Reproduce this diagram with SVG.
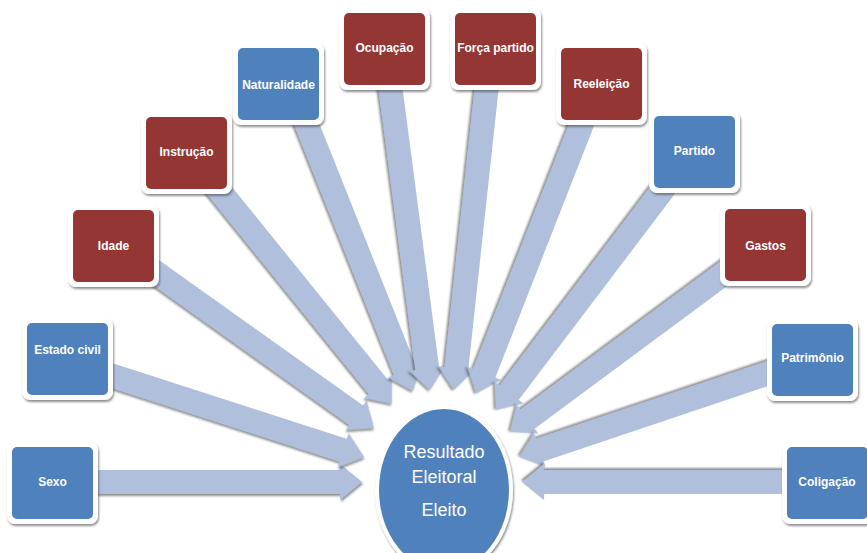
<svg xmlns="http://www.w3.org/2000/svg" width="867" height="553" viewBox="0 0 867 553">
<defs>
<filter id="sh" x="-20%" y="-20%" width="140%" height="140%">
<feDropShadow dx="1" dy="2" stdDeviation="1" flood-color="#444" flood-opacity="0.6"/>
</filter>
<style>
.arr{fill:#AFBFDC;filter:url(#sh)}
.frame{fill:#fff;filter:url(#sh)}
.blue{fill:#4F81BD}
.red{fill:#943634}
.lbl{font-family:"Liberation Sans",Arial,sans-serif;font-size:12px;font-weight:bold;fill:#fff;text-anchor:middle}
.ctr{font-family:"Liberation Sans",Arial,sans-serif;font-size:18px;fill:#fff;text-anchor:middle}
</style>
</defs>
<rect width="867" height="553" fill="#fff"/>
<g id="connectors">
<path class="arr" transform="translate(97,482) rotate(0)" d="M-10,-12 H243 V-18 L265,0 L243,18 V12 H-10 Z"/>
<path class="arr" transform="translate(110,375) rotate(17.89)" d="M-10,-12 H245 V-18 L267,0 L245,18 V12 H-10 Z"/>
<path class="arr" transform="translate(155,272) rotate(35.46)" d="M-10,-12 H247 V-18 L269,0 L247,18 V12 H-10 Z"/>
<path class="arr" transform="translate(219,190) rotate(51.04)" d="M-10,-12 H253 V-18 L275,0 L253,18 V12 H-10 Z"/>
<path class="arr" transform="translate(305,120) rotate(68.27)" d="M-10,-12 H270 V-18 L292,0 L270,18 V12 H-10 Z"/>
<path class="arr" transform="translate(390,85) rotate(82.53)" d="M-10,-12 H286 V-18 L308,0 L286,18 V12 H-10 Z"/>
<path class="arr" transform="translate(487,85) rotate(96.18)" d="M-10,-12 H285 V-18 L307,0 L285,18 V12 H-10 Z"/>
<path class="arr" transform="translate(583,121) rotate(111.4)" d="M-10,-12 H271 V-18 L293,0 L271,18 V12 H-10 Z"/>
<path class="arr" transform="translate(665,187) rotate(127.16)" d="M-10,-12 H258 V-18 L280,0 L258,18 V12 H-10 Z"/>
<path class="arr" transform="translate(726,272) rotate(143.47)" d="M-10,-12 H247 V-18 L269,0 L247,18 V12 H-10 Z"/>
<path class="arr" transform="translate(772,372) rotate(161.43)" d="M-10,-12 H245 V-18 L267,0 L245,18 V12 H-10 Z"/>
<path class="arr" transform="translate(787,482) rotate(180)" d="M-10,-12 H243 V-18 L265,0 L243,18 V12 H-10 Z"/>
</g>
<g id="resultado">
<ellipse cx="444" cy="490" rx="69" ry="85" class="frame"/>
<ellipse cx="444" cy="490" rx="65" ry="81" class="blue"/>
<text class="ctr" x="444" y="458">Resultado</text>
<text class="ctr" x="444" y="483">Eleitoral</text>
<text class="ctr" x="444" y="516">Eleito</text>
</g>
<g id="sexo">
<rect class="frame" x="7" y="442" width="91" height="82" rx="8"/>
<rect class="blue" x="12" y="447" width="81" height="72" rx="5"/>
<text class="lbl" x="52.5" y="486">Sexo</text>
</g>
<g id="estado-civil">
<rect class="frame" x="22" y="318" width="91" height="82" rx="8"/>
<rect class="blue" x="27" y="323" width="81" height="72" rx="5"/>
<text class="lbl" x="67.5" y="354">Estado civil</text>
</g>
<g id="idade">
<rect class="frame" x="68" y="205" width="91" height="82" rx="8"/>
<rect class="red" x="73" y="210" width="81" height="72" rx="5"/>
<text class="lbl" x="113.5" y="250">Idade</text>
</g>
<g id="instrucao">
<rect class="frame" x="141" y="112" width="91" height="82" rx="8"/>
<rect class="red" x="146" y="117" width="81" height="72" rx="5"/>
<text class="lbl" x="186.5" y="156">Instrução</text>
</g>
<g id="naturalidade">
<rect class="frame" x="233" y="43" width="91" height="82" rx="8"/>
<rect class="blue" x="238" y="48" width="81" height="72" rx="5"/>
<text class="lbl" x="278.5" y="89">Naturalidade</text>
</g>
<g id="ocupacao">
<rect class="frame" x="339" y="8" width="91" height="82" rx="8"/>
<rect class="red" x="344" y="13" width="81" height="72" rx="5"/>
<text class="lbl" x="384.5" y="52">Ocupação</text>
</g>
<g id="forca-partido">
<rect class="frame" x="450" y="8" width="91" height="82" rx="8"/>
<rect class="red" x="455" y="13" width="81" height="72" rx="5"/>
<text class="lbl" x="495.5" y="52">Força partido</text>
</g>
<g id="reeleicao">
<rect class="frame" x="556" y="43" width="91" height="82" rx="8"/>
<rect class="red" x="561" y="48" width="81" height="72" rx="5"/>
<text class="lbl" x="601.5" y="88">Reeleição</text>
</g>
<g id="partido">
<rect class="frame" x="649" y="111" width="91" height="82" rx="8"/>
<rect class="blue" x="654" y="116" width="81" height="72" rx="5"/>
<text class="lbl" x="694.5" y="155">Partido</text>
</g>
<g id="gastos">
<rect class="frame" x="720" y="204" width="91" height="82" rx="8"/>
<rect class="red" x="725" y="209" width="81" height="72" rx="5"/>
<text class="lbl" x="765.5" y="250">Gastos</text>
</g>
<g id="patrimonio">
<rect class="frame" x="767" y="319" width="91" height="82" rx="8"/>
<rect class="blue" x="772" y="324" width="81" height="72" rx="5"/>
<text class="lbl" x="812.5" y="362">Patrimônio</text>
</g>
<g id="coligacao">
<rect class="frame" x="782" y="442" width="91" height="82" rx="8"/>
<rect class="blue" x="787" y="447" width="81" height="72" rx="5"/>
<text class="lbl" x="827" y="486">Coligação</text>
</g>
</svg>
